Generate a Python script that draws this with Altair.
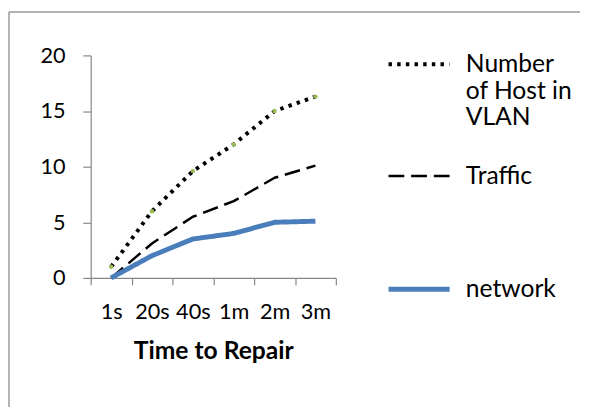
import altair as alt
import pandas as pd

categories = ["1s", "20s", "40s", "1m", "2m", "3m"]
host_values = [1.0, 6.0, 9.6, 12.0, 15.0, 16.3]
traffic_values = [0.0, 3.1, 5.5, 6.9, 9.0, 10.1]
network_values = [0.0, 2.0, 3.5, 4.0, 5.0, 5.1]
series_names = ["Number of Host in VLAN", "Traffic", "network"]
legend_lines = [["Number", "of Host in", "VLAN"], ["Traffic"], ["network"]]
y_ticks = [0, 5, 10, 15, 20]

rows = []
for name, vals in zip(series_names, [host_values, traffic_values, network_values]):
    for c, v in zip(categories, vals):
        rows.append({"time": c, "value": v, "series": name})
df = pd.DataFrame(rows)

# legend label expression (multi-line labels)
expr = "datum.label"
for name, lines in zip(series_names, legend_lines):
    arr = "[" + ",".join("'" + s + "'" for s in lines) + "]"
    expr = f"datum.label == '{name}' ? {arr} : ({expr})"

FONT = "Lato"
AXIS_GRAY = "#868686"


def build(use_lh):
    legend_kw = dict(
        title=None,
        orient="none",
        legendX=300,
        legendY=-24,
        symbolType="stroke",
        symbolSize=3844,
        labelFont=FONT,
        labelFontSize=25,
        labelColor="black",
        labelOffset=14,
        labelExpr=expr,
        labelBaseline="middle",
        labelLimit=300,
        gridAlign="all",
        rowPadding=2 if use_lh else 14,
    )
    if use_lh:
        legend_kw["labelLineHeight"] = 32

    x = alt.X(
        "time:N",
        sort=categories,
        bandPosition=0.5,
        scale=alt.Scale(type="band", paddingInner=0, paddingOuter=0),
        axis=alt.Axis(
            title="Time to Repair",
            labelAngle=0,
            tickBand="extent",
            tickSize=7,
            labelPadding=17,
            titlePadding=17,
        ),
    )
    y = alt.Y(
        "value:Q",
        scale=alt.Scale(domain=[0, 20]),
        axis=alt.Axis(values=y_ticks, title=None, grid=False, tickSize=8, labelPadding=18),
    )

    lines = alt.Chart(df).mark_line(strokeCap="butt", strokeJoin="round").encode(
        x=x,
        y=y,
        color=alt.Color(
            "series:N",
            scale=alt.Scale(domain=series_names, range=["#000000", "#000000", "#4a7ebb"]),
            legend=alt.Legend(**legend_kw),
        ),
        strokeDash=alt.StrokeDash(
            "series:N",
            scale=alt.Scale(domain=series_names, range=[[3.5, 5.3], [16, 7], [1, 0]]),
            legend=alt.Legend(**legend_kw),
        ),
        strokeWidth=alt.StrokeWidth(
            "series:N",
            scale=alt.Scale(type="ordinal", domain=series_names, range=[4, 2.5, 5]),
            legend=alt.Legend(**legend_kw),
        ),
    )

    markers = alt.Chart(df).transform_filter(
        alt.datum.series == series_names[0]
    ).mark_point(filled=True, color="#9bbb59", size=20, opacity=1).encode(x=x, y=y)

    frame_df = pd.DataFrame({"a": [0]})
    frame_top = alt.Chart(frame_df).mark_rule(color="#9a9a9a", strokeWidth=1.5).encode(
        x=alt.value(-83), x2=alt.value(497), y=alt.value(-44)
    )
    frame_left = alt.Chart(frame_df).mark_rule(color="#9a9a9a", strokeWidth=1.5).encode(
        x=alt.value(-83), y=alt.value(-44), y2=alt.value(357)
    )

    chart = alt.layer(frame_top, frame_left, lines, markers).properties(
        width=249, height=226, padding=0, background="white"
    ).configure_view(stroke=None).configure_axis(
        domainColor=AXIS_GRAY,
        tickColor=AXIS_GRAY,
        domainWidth=1.2,
        tickWidth=1.2,
        labelFont=FONT,
        labelFontSize=22,
        labelColor="black",
        titleFont=FONT,
        titleFontSize=25,
        titleFontWeight="bold",
        titleColor="black",
    )
    return chart


try:
    chart = build(True)
    chart.to_dict()
except Exception:
    chart = build(False)

chart.save("out.html", embed_options={"renderer": "svg", "actions": False})
